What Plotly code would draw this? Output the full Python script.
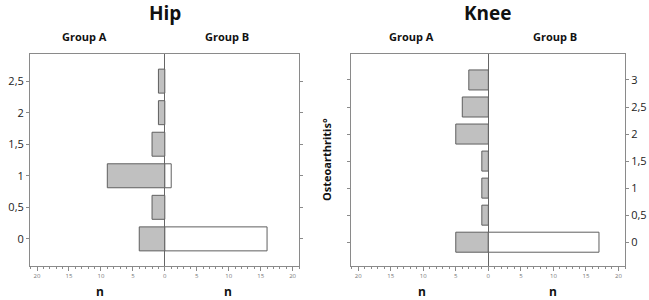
import plotly.graph_objects as go

levels_hip = [0, 0.5, 1, 1.5, 2, 2.5]
hip_group_a = [4, 2, 9, 2, 1, 1]
hip_group_b = [16, 0, 1, 0, 0, 0]

levels_knee = [0, 0.5, 1, 1.5, 2, 2.5, 3]
knee_group_a = [5, 1, 1, 1, 5, 4, 3]
knee_group_b = [17, 0, 0, 0, 0, 0, 0]

x_tickvals = [-20, -15, -10, -5, 0, 5, 10, 15, 20]
x_ticktext = ["20", "15", "10", "5", "0", "5", "10", "15", "20"]
hip_yticks = [0, 0.5, 1, 1.5, 2, 2.5]
knee_yticks = [0, 0.5, 1, 1.5, 2, 2.5, 3]

W, H = 649, 300
FONT = "Open Sans"
GRAY_FILL = "#c0c0c0"
EDGE = "#5f5f5f"
FRAME = "#8a8a8a"

fig = go.Figure()

def add_panel(levels, a, b, xa, ya, width):
    fig.add_trace(go.Bar(y=levels, x=[-v for v in a], orientation="h", width=width,
                         marker=dict(color=GRAY_FILL, line=dict(color=EDGE, width=1)),
                         xaxis=xa, yaxis=ya, showlegend=False))
    bl = [l for l, v in zip(levels, b) if v > 0]
    bv = [v for v in b if v > 0]
    fig.add_trace(go.Bar(y=bl, x=bv, orientation="h", width=width,
                         marker=dict(color="white", line=dict(color=EDGE, width=1)),
                         xaxis=xa, yaxis=ya, showlegend=False))

add_panel(levels_hip, hip_group_a, hip_group_b, "x", "y", 0.38)
add_panel(levels_knee, knee_group_a, knee_group_b, "x2", "y2", 0.37)

ydom = [1 - 266 / H, 1 - 54 / H]
xcommon = dict(range=[-21.1, 21.0], tickvals=x_tickvals, ticktext=x_ticktext,
               ticks="outside", ticklen=4, tickcolor=FRAME, tickwidth=1,
               minor=dict(dtick=1, ticks="outside", ticklen=2, tickcolor=FRAME),
               showline=True, linecolor=FRAME, linewidth=1, mirror=True,
               showgrid=False, zeroline=True, zerolinecolor="#666666", zerolinewidth=1,
               tickfont=dict(family=FONT, size=6, color="#777777"), fixedrange=True,
               automargin=False)
ycommon = dict(showline=True, linecolor=FRAME, linewidth=1, mirror="ticks",
               ticks="outside", ticklen=3, tickcolor=FRAME, showgrid=False, zeroline=False,
               tickfont=dict(family=FONT, size=11, color="#222222"), fixedrange=True,
               automargin=False)

fig.update_layout(
    width=W, height=H, margin=dict(l=0, r=0, t=0, b=0),
    paper_bgcolor="white", plot_bgcolor="white", separators=",.",
    barmode="overlay",
    xaxis=dict(domain=[30 / W, 299 / W], anchor="y", **xcommon),
    yaxis=dict(domain=ydom, anchor="x", range=[-0.43, 2.93], tickvals=hip_yticks,
               side="left", **ycommon),
    xaxis2=dict(domain=[351 / W, 625 / W], anchor="y2", **xcommon),
    yaxis2=dict(domain=ydom, anchor="x2", range=[-0.44, 3.48], tickvals=knee_yticks,
                side="right", **ycommon),
)

def txt(x, y, s, size, bold=True, angle=0):
    fig.add_annotation(x=x / W, y=1 - y / H, xref="paper", yref="paper", text=f"<b>{s}</b>" if bold else s,
                       showarrow=False, textangle=angle, xanchor="center", yanchor="middle",
                       font=dict(family=FONT, size=size, color="#111111"))

txt(165, 13, "Hip", 19)
txt(488, 13, "Knee", 19)
txt(84, 36, "Group A", 11)
txt(227, 36, "Group B", 11)
txt(412, 36, "Group A", 11)
txt(555, 36, "Group B", 11)
txt(100, 291, "n", 12)
txt(228, 291, "n", 12)
txt(422, 291, "n", 12)
txt(553, 291, "n", 12)
txt(326, 160, "Osteoarthritis°", 11, angle=-90)

fig.write_html("out.html", config={"displayModeBar": False},
               post_script="document.body.style.margin='0';document.body.style.padding='0';")
